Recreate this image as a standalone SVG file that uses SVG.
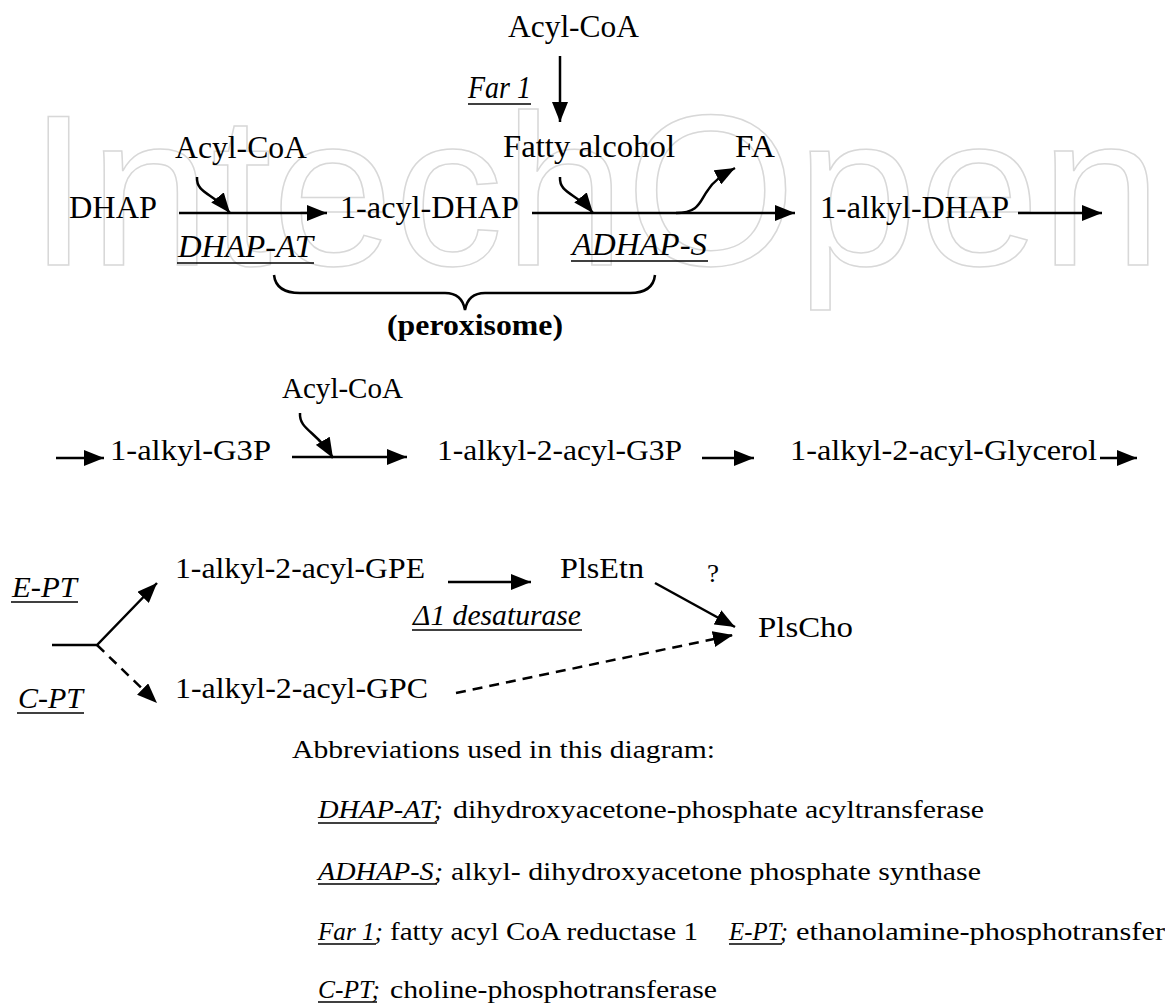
<svg xmlns="http://www.w3.org/2000/svg" width="1165" height="1005" viewBox="0 0 1165 1005">
<style>
text{font-family:"Liberation Serif","Times New Roman",serif;fill:#000}
.t31{font-size:31px}
.t30{font-size:30px}
.t29{font-size:29px}
.t26{font-size:26px}
.t25{font-size:25px}
.it{font-style:italic}
.b{font-weight:bold}
.ln{stroke:#000;stroke-width:2.5;fill:none}
.dash{stroke-dasharray:10 7}
.ul{stroke:#000;stroke-width:1.6}
.wm{font-family:"Liberation Sans",Arial,sans-serif;font-size:216px;fill:none;stroke:#d8d8d8;stroke-width:1.5}
</style>
<defs>
<marker id="ah" markerUnits="userSpaceOnUse" viewBox="0 0 20 16" refX="20" refY="8" markerWidth="20" markerHeight="16" orient="auto">
<path d="M0,0 L20,8 L0,16 z" fill="#000"/>
</marker>
</defs>
<rect width="1165" height="1005" fill="#fff"/>
<text class="wm" x="28" y="265" textLength="1134" lengthAdjust="spacingAndGlyphs">IntechOpen</text>

<g id="connectors">
<path class="ln" d="M560,56 L560,122" marker-end="url(#ah)"/>
<path class="ln" d="M179,213 L327,213" marker-end="url(#ah)"/>
<path class="ln" d="M197,177 C196,194 214,193 230,213" marker-end="url(#ah)"/>
<path class="ln" d="M532,213 L795,213" marker-end="url(#ah)"/>
<path class="ln" d="M560,177 C559,194 577,193 593,213" marker-end="url(#ah)"/>
<path class="ln" d="M676,213 C700,213 700,200 708,190 C712,183 720,176 735,168" marker-end="url(#ah)"/>
<path class="ln" d="M1018,213 L1102,213" marker-end="url(#ah)"/>
<path class="ln" d="M274,275 Q276,293 300,293 L445,293 Q462,293 465,310 Q468,293 485,293 L630,293 Q653,293 655,275"/>
<path class="ln" d="M56,458 L104,458" marker-end="url(#ah)"/>
<path class="ln" d="M292,457 L407,457" marker-end="url(#ah)"/>
<path class="ln" d="M300,413 C299,430 317,431 333,458" marker-end="url(#ah)"/>
<path class="ln" d="M702,458 L754,458" marker-end="url(#ah)"/>
<path class="ln" d="M1100,458 L1137,458" marker-end="url(#ah)"/>
<path class="ln" d="M448,582 L531,582" marker-end="url(#ah)"/>
<path class="ln" d="M655,583 L735,627" marker-end="url(#ah)"/>
<path class="ln" d="M52,645 L97,645 L157,583" marker-end="url(#ah)"/>
<path class="ln dash" d="M97,645 L157,703" marker-end="url(#ah)"/>
<path class="ln dash" d="M456,693 L733,635" marker-end="url(#ah)"/>
</g>

<g id="acylcoa-top"><text class="t31" x="508" y="37" textLength="131" lengthAdjust="spacingAndGlyphs">Acyl-CoA</text></g>
<g id="far1"><text class="t31 it" x="468" y="98" textLength="63" lengthAdjust="spacingAndGlyphs">Far 1</text><line class="ul" x1="468" y1="104" x2="531" y2="104"/></g>
<g id="acylcoa-1"><text class="t31" x="175" y="158" textLength="132" lengthAdjust="spacingAndGlyphs">Acyl-CoA</text></g>
<g id="fatty-alcohol"><text class="t31" x="503" y="157" textLength="172" lengthAdjust="spacingAndGlyphs">Fatty alcohol</text></g>
<g id="fa"><text class="t31" x="735" y="157" textLength="40" lengthAdjust="spacingAndGlyphs">FA</text></g>
<g id="dhap"><text class="t31" x="69" y="218" textLength="88" lengthAdjust="spacingAndGlyphs">DHAP</text></g>
<g id="acyl-dhap"><text class="t31" x="340" y="218" textLength="179" lengthAdjust="spacingAndGlyphs">1-acyl-DHAP</text></g>
<g id="alkyl-dhap"><text class="t31" x="820" y="218" textLength="189" lengthAdjust="spacingAndGlyphs">1-alkyl-DHAP</text></g>
<g id="dhap-at"><text class="t31 it" x="178" y="257" textLength="135" lengthAdjust="spacingAndGlyphs">DHAP-AT</text><line class="ul" x1="177" y1="263" x2="314" y2="263"/></g>
<g id="adhap-s"><text class="t31 it" x="572" y="255" textLength="135" lengthAdjust="spacingAndGlyphs">ADHAP-S</text><line class="ul" x1="571" y1="261" x2="708" y2="261"/></g>
<g id="peroxisome"><text class="t30 b" x="387" y="335" textLength="176" lengthAdjust="spacingAndGlyphs">(peroxisome)</text></g>

<g id="acylcoa-2"><text class="t29" x="282" y="398" textLength="121" lengthAdjust="spacingAndGlyphs">Acyl-CoA</text></g>
<g id="alkyl-g3p"><text class="t29" x="110" y="460" textLength="161" lengthAdjust="spacingAndGlyphs">1-alkyl-G3P</text></g>
<g id="alkyl-acyl-g3p"><text class="t29" x="437" y="460" textLength="245" lengthAdjust="spacingAndGlyphs">1-alkyl-2-acyl-G3P</text></g>
<g id="alkyl-acyl-glycerol"><text class="t29" x="790" y="460" textLength="307" lengthAdjust="spacingAndGlyphs">1-alkyl-2-acyl-Glycerol</text></g>

<g id="e-pt"><text class="t30 it" x="12" y="597" textLength="65" lengthAdjust="spacingAndGlyphs">E-PT</text><line class="ul" x1="11" y1="602" x2="78" y2="602"/></g>
<g id="gpe"><text class="t30" x="175" y="578" textLength="250" lengthAdjust="spacingAndGlyphs">1-alkyl-2-acyl-GPE</text></g>
<g id="plsetn"><text class="t30" x="560" y="578" textLength="84" lengthAdjust="spacingAndGlyphs">PlsEtn</text></g>
<g id="question"><text class="t25" x="707" y="582" textLength="12" lengthAdjust="spacingAndGlyphs">?</text></g>
<g id="desaturase"><text class="t30 it" x="413" y="625" textLength="168" lengthAdjust="spacingAndGlyphs">Δ1 desaturase</text><line class="ul" x1="412" y1="630" x2="582" y2="630"/></g>
<g id="plscho"><text class="t30" x="758" y="637" textLength="95" lengthAdjust="spacingAndGlyphs">PlsCho</text></g>
<g id="c-pt"><text class="t30 it" x="18" y="708" textLength="65" lengthAdjust="spacingAndGlyphs">C-PT</text><line class="ul" x1="17" y1="713" x2="84" y2="713"/></g>
<g id="gpc"><text class="t30" x="175" y="698" textLength="253" lengthAdjust="spacingAndGlyphs">1-alkyl-2-acyl-GPC</text></g>

<g id="abbreviations">
<text class="t26" x="292" y="758" textLength="423" lengthAdjust="spacingAndGlyphs">Abbreviations used in this diagram:</text>
<text class="t26 it" x="318" y="818" textLength="125" lengthAdjust="spacingAndGlyphs">DHAP-AT;</text><line class="ul" x1="318" y1="823" x2="437" y2="823"/>
<text class="t26" x="453" y="818" textLength="531" lengthAdjust="spacingAndGlyphs">dihydroxyacetone-phosphate acyltransferase</text>
<text class="t26 it" x="318" y="880" textLength="125" lengthAdjust="spacingAndGlyphs">ADHAP-S;</text><line class="ul" x1="318" y1="884" x2="437" y2="884"/>
<text class="t26" x="451" y="880" textLength="530" lengthAdjust="spacingAndGlyphs">alkyl- dihydroxyacetone phosphate synthase</text>
<text class="t26 it" x="318" y="940" textLength="65" lengthAdjust="spacingAndGlyphs">Far 1;</text><line class="ul" x1="318" y1="944" x2="376" y2="944"/>
<text class="t26" x="390" y="940" textLength="308" lengthAdjust="spacingAndGlyphs">fatty acyl CoA reductase 1</text>
<text class="t26 it" x="729" y="940" textLength="59" lengthAdjust="spacingAndGlyphs">E-PT;</text><line class="ul" x1="729" y1="944" x2="782" y2="944"/>
<text class="t26" x="796" y="940" textLength="369" lengthAdjust="spacingAndGlyphs">ethanolamine-phosphotransfer</text>
<text class="t26 it" x="318" y="998" textLength="62" lengthAdjust="spacingAndGlyphs">C-PT;</text><line class="ul" x1="318" y1="1002" x2="377" y2="1002"/>
<text class="t26" x="390" y="998" textLength="327" lengthAdjust="spacingAndGlyphs">choline-phosphotransferase</text>
</g>
</svg>
